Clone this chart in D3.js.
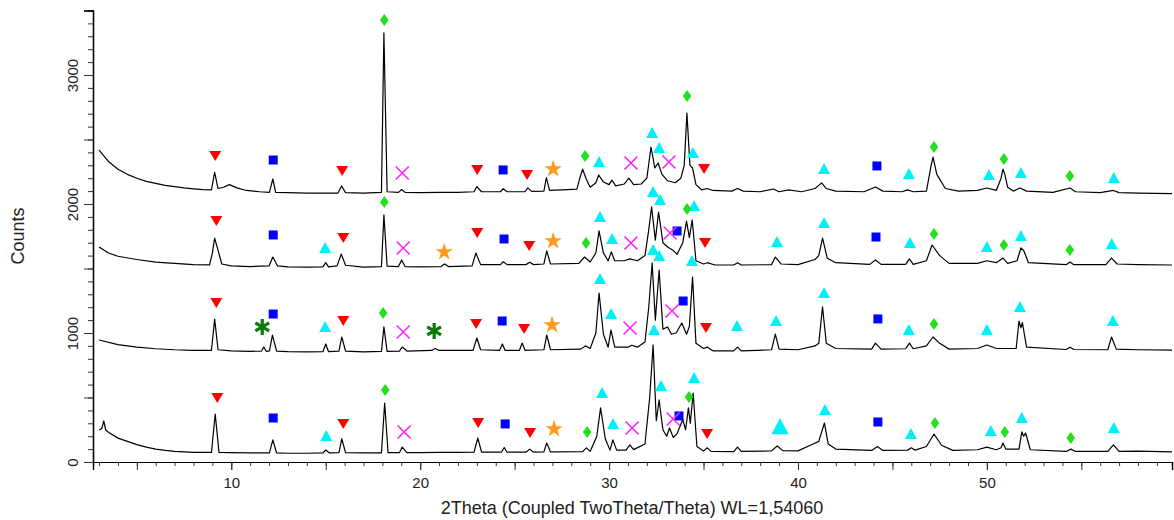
<!DOCTYPE html>
<html>
<head>
<meta charset="utf-8">
<script src="https://cdn.jsdelivr.net/npm/d3@7"></script>
<style>
  body { margin: 0; background: #fff; }
  svg { font-family: "Liberation Sans", Arial, sans-serif; }
</style>
</head>
<body>
<div id="chart"></div>
<script>
// tick labels
var xTickLabels = [10, 20, 30, 40, 50];
var yTickLabels = [0, 1000, 2000, 3000];

// traces, [2theta, counts], top to bottom
var trace1 = [[3.0,2418],[3.5,2330],[4.0,2270],[4.5,2230],[5.0,2200],[5.5,2175],[6.0,2160],[6.5,2145],[7.0,2135],[7.5,2125],[8.0,2118],[8.5,2112],[8.95,2110],[9.12,2245],[9.3,2120],[9.6,2130],[9.9,2150],[10.3,2125],[10.8,2105],[11.5,2095],[12.02,2090],[12.2,2194],[12.35,2090],[13,2088],[14,2085],[15,2085],[15.65,2085],[15.84,2140],[16.05,2088],[17,2085],[17.95,2090],[18.08,3326],[18.25,2095],[18.85,2090],[19.02,2112],[19.2,2090],[20,2088],[21,2090],[22,2090],[22.85,2095],[23.0,2135],[23.25,2095],[24.25,2095],[24.4,2118],[24.6,2095],[25.55,2095],[25.7,2125],[25.9,2098],[26.55,2100],[26.68,2205],[26.85,2105],[27.5,2110],[28.3,2115],[28.45,2200],[28.6,2270],[28.8,2190],[29.0,2130],[29.3,2165],[29.45,2225],[29.7,2170],[30.0,2150],[30.15,2185],[30.35,2140],[30.8,2155],[31.05,2200],[31.3,2150],[31.7,2155],[32.0,2200],[32.22,2442],[32.42,2280],[32.6,2318],[32.8,2230],[33.1,2180],[33.5,2165],[33.8,2200],[33.98,2300],[34.12,2705],[34.28,2300],[34.42,2279],[34.6,2150],[34.9,2110],[35.2,2120],[35.5,2105],[36.5,2100],[36.8,2120],[37.1,2100],[38.0,2095],[38.7,2116],[39.0,2095],[39.5,2110],[40.2,2095],[40.9,2120],[41.15,2150],[41.25,2163],[41.5,2120],[42.0,2100],[43.5,2095],[44.1,2132],[44.5,2100],[45.5,2095],[45.8,2110],[46.1,2095],[46.8,2100],[47.05,2300],[47.15,2364],[47.35,2230],[47.8,2120],[48.5,2100],[49.5,2105],[50.0,2124],[50.5,2105],[50.75,2200],[50.85,2271],[50.95,2230],[51.1,2130],[51.4,2100],[51.75,2124],[52.1,2100],[53.5,2090],[54.4,2124],[54.7,2095],[56.0,2088],[56.7,2105],[57.0,2088],[58,2085],[59.8,2080]];

var trace2 = [[3.0,1667],[3.5,1620],[4.0,1595],[5.0,1570],[6.0,1550],[7.0,1540],[8.0,1530],[8.85,1528],[9.0,1620],[9.12,1736],[9.3,1640],[9.5,1535],[10,1520],[11,1515],[12.0,1520],[12.2,1589],[12.45,1520],[13,1512],[14,1510],[14.85,1512],[15.0,1545],[15.15,1512],[15.6,1520],[15.82,1612],[16.05,1525],[17,1510],[17.95,1515],[18.08,1915],[18.25,1518],[18.85,1515],[19.02,1566],[19.2,1515],[20,1512],[21.1,1515],[21.3,1535],[21.5,1515],[22.75,1520],[22.95,1620],[23.2,1530],[24.25,1530],[24.4,1552],[24.6,1530],[25.6,1530],[25.8,1548],[26.0,1530],[26.55,1535],[26.7,1636],[26.9,1535],[28.4,1540],[28.7,1589],[29.0,1550],[29.3,1620],[29.47,1791],[29.7,1620],[29.95,1560],[30.12,1628],[30.3,1560],[30.8,1560],[31.1,1575],[31.5,1560],[31.9,1600],[32.1,1800],[32.25,1977],[32.45,1720],[32.62,1938],[32.85,1700],[33.1,1667],[33.4,1640],[33.6,1610],[33.9,1700],[34.1,1868],[34.25,1740],[34.4,1876],[34.6,1560],[35.0,1535],[35.2,1545],[35.6,1527],[36.6,1527],[36.8,1545],[37.0,1527],[38.6,1530],[38.8,1589],[39.1,1535],[40.0,1530],[40.9,1570],[41.1,1600],[41.3,1736],[41.55,1580],[42.0,1545],[43.8,1532],[44.1,1566],[44.4,1532],[45.7,1532],[45.9,1574],[46.1,1532],[46.8,1560],[47.1,1682],[47.5,1600],[48.0,1540],[49.5,1540],[50.0,1560],[50.5,1545],[50.85,1581],[51.1,1540],[51.6,1560],[51.8,1659],[51.95,1640],[52.2,1545],[54.2,1530],[54.4,1550],[54.6,1530],[56.3,1530],[56.6,1581],[56.9,1535],[58,1530],[59.8,1527]];

var trace3 = [[3.0,946],[4.0,910],[5.0,890],[6.0,878],[7.0,870],[8.0,866],[8.95,866],[9.12,1108],[9.3,870],[10,862],[11,858],[11.6,860],[11.72,891],[11.85,858],[12.02,862],[12.18,984],[12.4,860],[13,855],[14,853],[14.85,855],[15.0,915],[15.15,855],[15.7,860],[15.85,969],[16.05,860],[17,853],[17.95,858],[18.08,1047],[18.25,858],[18.9,860],[19.05,891],[19.3,860],[20.6,865],[20.8,880],[21.0,865],[22.8,865],[23.0,961],[23.2,870],[24.2,865],[24.35,915],[24.5,865],[25.25,865],[25.4,922],[25.55,866],[26.55,870],[26.7,984],[26.9,870],[28.5,875],[28.75,900],[29.0,880],[29.3,1000],[29.47,1310],[29.7,990],[29.95,890],[30.1,1023],[30.3,890],[31.0,890],[31.2,905],[31.5,890],[31.9,930],[32.1,1200],[32.28,1543],[32.45,1100],[32.65,1488],[32.85,1030],[33.1,1047],[33.3,990],[33.55,1000],[33.85,1077],[34.1,990],[34.25,1050],[34.42,1434],[34.6,920],[35.0,880],[35.2,890],[35.5,862],[36.6,862],[36.8,891],[37.0,862],[38.6,870],[38.8,992],[39.0,875],[40.0,870],[40.9,900],[41.1,920],[41.3,1202],[41.5,920],[42.0,880],[43.9,875],[44.1,922],[44.4,875],[45.7,878],[45.9,922],[46.1,878],[46.8,900],[47.15,969],[47.5,920],[48.0,875],[49.5,880],[50.0,907],[50.5,880],[51.55,880],[51.7,1093],[51.8,1040],[51.88,1080],[52.1,890],[54.2,872],[54.4,890],[54.6,872],[56.4,870],[56.6,969],[56.85,875],[58,870],[59.8,868]];

var trace4 = [[3.0,248],[3.15,260],[3.25,318],[3.35,250],[3.5,230],[4.0,185],[4.5,160],[5.0,135],[5.5,115],[6.0,100],[6.5,90],[7.0,82],[7.5,78],[8.0,75],[8.95,74],[9.15,372],[9.35,75],[10,72],[11,70],[12.02,70],[12.2,171],[12.4,70],[13,68],[14,68],[14.85,70],[15.0,93],[15.2,70],[15.7,72],[15.85,180],[16.05,72],[17,70],[17.95,70],[18.12,457],[18.3,72],[18.9,72],[19.05,116],[19.3,72],[20,72],[21,74],[22,74],[22.85,76],[23.05,186],[23.25,76],[24.3,76],[24.45,112],[24.6,76],[25.6,76],[25.8,100],[26.0,76],[26.55,78],[26.7,147],[26.9,78],[28.6,80],[28.8,110],[29.0,82],[29.35,200],[29.55,419],[29.8,180],[30.05,92],[30.2,171],[30.4,92],[30.9,92],[31.1,132],[31.3,96],[31.9,140],[32.15,500],[32.33,907],[32.5,320],[32.65,481],[32.85,250],[33.05,200],[33.2,264],[33.4,190],[33.6,220],[33.9,330],[34.05,250],[34.2,420],[34.3,300],[34.45,535],[34.65,120],[35.0,86],[35.2,110],[35.4,82],[36.6,80],[36.8,116],[37.0,82],[38.6,86],[38.9,124],[39.2,88],[40.0,86],[40.8,140],[41.1,160],[41.4,302],[41.6,140],[42.0,100],[43.9,90],[44.2,120],[44.5,90],[45.8,92],[46.0,110],[46.2,92],[46.8,120],[47.2,217],[47.6,130],[48.2,90],[49.5,95],[50.0,115],[50.5,95],[50.75,110],[50.85,147],[51.0,100],[51.7,100],[51.85,233],[51.95,200],[52.05,225],[52.3,95],[54.2,82],[54.45,100],[54.7,82],[56.4,82],[56.7,132],[57.0,82],[58.0,85],[59.8,78]];

// phase markers, [2theta, counts]
var phaseDown = [[9.15,2372],[15.87,2256],[23.02,2264],[25.66,2225],[35.03,2271],
  [9.21,1868],[15.93,1736],[23.02,1775],[25.77,1674],[35.08,1698],
  [9.21,1233],[15.93,1093],[22.96,1070],[25.5,1031],[35.13,1039],
  [9.26,496],[15.93,295],[23.07,302],[25.82,225],[35.19,217]];
var phaseSquare = [[12.22,2341],[24.39,2264],[44.18,2295],
  [12.22,1760],[24.44,1729],[33.6,1791],[44.13,1744],
  [12.22,1147],[24.34,1093],[33.92,1248],[44.23,1109],
  [12.22,341],[24.5,295],[33.7,357],[44.23,310]];
var phaseUp = [[29.47,2326],[32.28,2550],[32.65,2434],[34.44,2395],[41.38,2271],[45.87,2233],[50.11,2225],[51.8,2240],[56.72,2202],
  [14.97,1659],[29.52,1899],[30.16,1729],[32.33,2093],[32.7,2031],[34.5,1984],[38.89,1705],[41.38,1853],[45.93,1698],[50.0,1667],[51.8,1752],[56.61,1690],
  [14.97,1047],[29.52,1419],[30.11,1147],[32.33,1643],[32.65,1597],[32.38,1023],[34.39,1558],[36.77,1054],[38.84,1093],[41.38,1310],[45.87,1023],[50.0,1023],[51.75,1202],[56.67,1093],
  [15.03,202],[29.63,535],[30.21,295],[32.75,589],[34.5,651],[39.05,271],[41.43,403],[45.98,217],[50.21,240],[51.85,341],[56.72,264]];
var phaseDiamond = [[18.1,3426],[28.73,2372],[34.13,2837],[47.2,2442],[50.9,2349],[54.39,2217],
  [18.1,2016],[28.78,1698],[34.13,1961],[47.2,1767],[50.9,1682],[54.39,1643],
  [18.04,1155],[47.2,1070],
  [18.15,558],[28.84,233],[34.23,504],[47.25,302],[50.95,233],[54.44,186]];
var phaseCross = [[19.05,2240],[31.16,2318],[33.17,2326],
  [19.1,1659],[31.16,1698],[33.23,1775],
  [19.1,1008],[31.11,1039],[33.33,1171],
  [19.15,233],[31.22,264],[33.39,333]];
var phaseStar = [[27.04,2271],[21.27,1628],[27.04,1713],[26.98,1062],[27.09,256]];
var phaseAsterisk = [[11.64,1047],[20.74,1016]];

var svgWidth = 1174;
var svgHeight = 520;

var svg = d3.select("#chart")
    .append("svg")
    .attr("width", svgWidth)
    .attr("height", svgHeight);

var x = d3.scaleLinear().domain([2.68, 59.8]).range([93, 1172]);
var y = d3.scaleLinear().domain([0, 3500]).range([462, 10.5]);

// x axis: minor ticks every degree, longer every 5, labels every 10
svg.append("g")
    .attr("transform", "translate(0,462)")
    .call(d3.axisBottom(x).tickValues(d3.range(3, 60, 1)).tickSize(4).tickFormat(""));
svg.append("g")
    .attr("transform", "translate(0,462)")
    .call(d3.axisBottom(x).tickValues(d3.range(5, 60, 5)).tickSize(8).tickFormat(""));
var xLab = svg.append("g")
    .attr("transform", "translate(0,462)")
    .call(d3.axisBottom(x).tickValues(xTickLabels).tickSize(8).tickPadding(7));

// y axis: minor every 100, longer every 500, labels every 1000
svg.append("g")
    .attr("transform", "translate(93,0)")
    .call(d3.axisLeft(y).tickValues(d3.range(0, 3501, 100)).tickSize(5).tickFormat(""));
svg.append("g")
    .attr("transform", "translate(93,0)")
    .call(d3.axisLeft(y).tickValues(d3.range(0, 3501, 500)).tickSize(9).tickFormat(""));
var yLab = svg.append("g")
    .attr("transform", "translate(93,0)")
    .call(d3.axisLeft(y).tickValues(yTickLabels).tickSize(9).tickFormat(d3.format("d")));

yLab.selectAll(".tick text")
    .attr("x", 0).attr("dy", 0)
    .attr("transform", "translate(-15,0) rotate(-90)")
    .attr("text-anchor", "middle");

svg.selectAll(".domain").attr("stroke", "#000").attr("stroke-width", 1.2);
svg.selectAll(".tick line").attr("stroke", "#333");
svg.selectAll(".tick text").attr("font-size", "15px").attr("fill", "#222")
    .attr("font-family", "Liberation Sans, Arial, sans-serif");

// titles
svg.append("text")
    .attr("x", 632).attr("y", 514)
    .attr("text-anchor", "middle")
    .attr("font-size", "18px")
    .attr("fill", "#222")
    .text("2Theta (Coupled TwoTheta/Theta) WL=1,54060");

svg.append("text")
    .attr("transform", "translate(24,236) rotate(-90)")
    .attr("text-anchor", "middle")
    .attr("font-size", "18px")
    .attr("fill", "#222")
    .text("Counts");

// patterns
var line = d3.line()
    .x(function(d) { return x(d[0]); })
    .y(function(d) { return y(d[1]); });

[trace1, trace2, trace3, trace4].forEach(function(t) {
  svg.append("path")
      .datum(t)
      .attr("d", line)
      .attr("fill", "none")
      .attr("stroke", "#000")
      .attr("stroke-width", 1.2)
      .attr("stroke-linejoin", "round");
});

// markers
function place(d) { return "translate(" + x(d[0]) + "," + y(d[1]) + ")"; }

svg.selectAll(".down").data(phaseDown).enter().append("path")
    .attr("transform", place)
    .attr("d", "M-6,-5L6,-5L0,5Z")
    .attr("fill", "#ff0000");

svg.selectAll(".sq").data(phaseSquare).enter().append("rect")
    .attr("transform", place)
    .attr("x", -4.5).attr("y", -4.5).attr("width", 9).attr("height", 9)
    .attr("fill", "#0000ff");

svg.selectAll(".up").data(phaseUp).enter().append("path")
    .attr("transform", function(d) {
      // the 39 deg triangle on the bottom pattern is drawn larger
      var s = (d[0] === 39.05) ? 1.45 : 1;
      return place(d) + " scale(" + s + ")";
    })
    .attr("d", "M-6,5L6,5L0,-6Z")
    .attr("fill", "#00f0f8");

svg.selectAll(".dia").data(phaseDiamond).enter().append("path")
    .attr("transform", place)
    .attr("d", "M0,-6L4.3,0L0,6L-4.3,0Z")
    .attr("fill", "#22e01e");

svg.selectAll(".cross").data(phaseCross).enter().append("path")
    .attr("transform", place)
    .attr("d", "M-6.5,-6.5L6.5,6.5M6.5,-6.5L-6.5,6.5")
    .attr("stroke", "#ff22ff")
    .attr("stroke-width", 1.6)
    .attr("fill", "none");

svg.selectAll(".star").data(phaseStar).enter().append("path")
    .attr("transform", place)
    .attr("d", d3.symbol().type(d3.symbolStar).size(95))
    .attr("fill", "#ff9a1e");

svg.selectAll(".ast").data(phaseAsterisk).enter().append("path")
    .attr("transform", place)
    .attr("d", "M0,-8L0,8M-6.9,-4L6.9,4M-6.9,4L6.9,-4")
    .attr("stroke", "#0a7a0a")
    .attr("stroke-width", 3.2)
    .attr("fill", "none");
</script>
</body>
</html>
